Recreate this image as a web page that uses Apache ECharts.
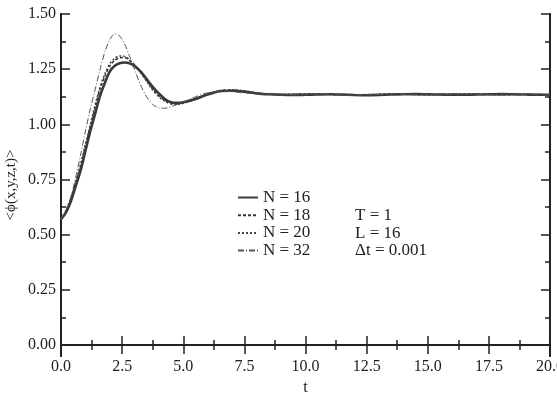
<!DOCTYPE html>
<html>
<head>
<meta charset="utf-8">
<script src="https://cdn.jsdelivr.net/npm/echarts@6/dist/echarts.min.js"></script>
<style>
  html, body { margin: 0; padding: 0; background: #fff; }
  #chart { width: 557px; height: 396px; }
</style>
</head>
<body>
<div id="chart"></div>
<script>
// time samples (t)
const times = [
  0, 0.2, 0.4, 0.6, 0.8, 1.0, 1.2, 1.4, 1.6, 1.8, 2.0, 2.2, 2.4, 2.6, 2.8, 3.0,
  3.25, 3.5, 3.75, 4.0, 4.25, 4.5, 4.75, 5.0,
  5.5, 6.0, 6.5, 7.0, 7.5, 8.0,
  8.5, 9.0, 9.5, 10, 10.5, 11, 11.5, 12, 12.5, 13, 13.5, 14, 14.5, 15, 15.5, 16,
  16.5, 17, 17.5, 18, 18.5, 19, 19.5, 20
];

const n16 = [
  0.57, 0.60, 0.65, 0.72, 0.79, 0.88, 0.97, 1.05, 1.13, 1.19, 1.24, 1.265, 1.277, 1.28, 1.277, 1.265,
  1.24, 1.205, 1.17, 1.14, 1.115, 1.10, 1.097, 1.10,
  1.115, 1.135, 1.15, 1.152, 1.148, 1.14,
  1.136, 1.134, 1.133, 1.134, 1.135, 1.136, 1.135, 1.133, 1.132, 1.133, 1.135, 1.136, 1.137, 1.136, 1.135, 1.134,
  1.134, 1.135, 1.136, 1.137, 1.136, 1.135, 1.134, 1.134
];
const n18 = [
  0.57, 0.60, 0.66, 0.73, 0.81, 0.90, 0.99, 1.08, 1.16, 1.22, 1.265, 1.29, 1.302, 1.303, 1.29, 1.27,
  1.24, 1.20, 1.16, 1.13, 1.108, 1.095, 1.093, 1.097,
  1.115, 1.138, 1.152, 1.155, 1.15, 1.142,
  1.137, 1.135, 1.136, 1.138, 1.137, 1.135, 1.133, 1.132, 1.134, 1.136, 1.138, 1.137, 1.135, 1.134, 1.135, 1.137,
  1.138, 1.137, 1.135, 1.134, 1.135, 1.136, 1.135, 1.134
];
const n20 = [
  0.57, 0.61, 0.665, 0.74, 0.82, 0.91, 1.00, 1.09, 1.17, 1.23, 1.275, 1.30, 1.31, 1.308, 1.292, 1.27,
  1.235, 1.195, 1.155, 1.125, 1.104, 1.092, 1.09, 1.095,
  1.113, 1.137, 1.153, 1.157, 1.152, 1.143,
  1.138, 1.136, 1.137, 1.139, 1.138, 1.136, 1.134, 1.133, 1.135, 1.137, 1.139, 1.138, 1.136, 1.135, 1.136, 1.138,
  1.139, 1.138, 1.136, 1.135, 1.136, 1.137, 1.136, 1.135
];
const n32 = [
  0.57, 0.61, 0.67, 0.76, 0.86, 0.97, 1.07, 1.16, 1.25, 1.33, 1.385, 1.41, 1.40, 1.365, 1.31, 1.25,
  1.18, 1.125, 1.09, 1.075, 1.073, 1.08, 1.09, 1.10,
  1.125, 1.143, 1.15, 1.148, 1.142, 1.138,
  1.135, 1.133, 1.134, 1.136, 1.137, 1.135, 1.132, 1.131, 1.133, 1.135, 1.137, 1.136, 1.134, 1.133, 1.134, 1.136,
  1.137, 1.136, 1.134, 1.133, 1.134, 1.135, 1.134, 1.133
];

const seriesNames = ['N = 16', 'N = 18', 'N = 20', 'N = 32'];
const yMajor = [0, 0.25, 0.5, 0.75, 1.0, 1.25, 1.5];
const yMinor = [0.125, 0.375, 0.625, 0.875, 1.125, 1.375];
const paramText = ['T = 1', 'L = 16', '\u0394t = 0.001'];

const FONT = "'Liberation Serif', 'DejaVu Serif', serif";
const AX = '#222';

function pairs(vals) {
  return times.map((t, i) => [t, vals[i]]);
}

const chart = echarts.init(document.getElementById('chart'), null, {renderer: 'canvas'});

const yBase = {
  type: 'value', min: -0.05, max: 1.5,
  splitLine: {show: false},
  axisLine: {show: true, lineStyle: {color: AX, width: 2}},
};

const option = {
  animation: false,
  backgroundColor: '#fff',
  grid: {left: 61, right: 7, top: 14, bottom: 40, outerBoundsMode: 'none', containLabel: false},
  xAxis: [
    {
      type: 'value', min: 0, max: 20, interval: 2.5,
      name: 't', nameLocation: 'middle', nameGap: 16,
      nameTextStyle: {fontFamily: FONT, fontSize: 16, color: AX},
      axisLine: {lineStyle: {color: AX, width: 2}},
      axisTick: {inside: true, length: 9, lineStyle: {color: AX, width: 1.5}},
      minorTick: {show: true, splitNumber: 2, length: 5, lineStyle: {color: AX, width: 1.5}},
      axisLabel: {fontFamily: FONT, fontSize: 16, color: AX, margin: 3,
        formatter: v => v.toFixed(1)},
      splitLine: {show: false}, minorSplitLine: {show: false},
    },
    {
      type: 'value', min: 0, max: 20, interval: 2.5, position: 'top',
      axisLine: {lineStyle: {color: AX, width: 2}},
      axisTick: {inside: true, length: 9, lineStyle: {color: AX, width: 1.5}},
      minorTick: {show: true, splitNumber: 2, length: 5, lineStyle: {color: AX, width: 1.5}},
      axisLabel: {show: false},
      splitLine: {show: false}, minorSplitLine: {show: false},
    }
  ],
  yAxis: [
    Object.assign({}, yBase, {
      position: 'left',
      name: '<\u03d5(x,y,z,t)>', nameLocation: 'middle', nameGap: 42, nameMoveOverlap: false,
      nameTextStyle: {fontFamily: FONT, fontSize: 15, color: AX},
      axisTick: {inside: true, length: 9, customValues: yMajor, lineStyle: {color: AX, width: 1.5}},
      axisLabel: {customValues: yMajor, fontFamily: FONT, fontSize: 16, color: AX, margin: 5,
        formatter: v => v.toFixed(2)},
    }),
    Object.assign({}, yBase, {
      position: 'left',
      axisTick: {inside: true, length: 5, customValues: yMinor, lineStyle: {color: AX, width: 1.5}},
      axisLabel: {show: false},
    }),
    Object.assign({}, yBase, {
      position: 'right',
      axisTick: {inside: true, length: 9, customValues: yMajor, lineStyle: {color: AX, width: 1.5}},
      axisLabel: {show: false},
    }),
    Object.assign({}, yBase, {
      position: 'right',
      axisTick: {inside: true, length: 5, customValues: yMinor, lineStyle: {color: AX, width: 1.5}},
      axisLabel: {show: false},
    })
  ],
  legend: {
    orient: 'vertical', left: 237, top: 189, padding: 0,
    itemWidth: 20, itemHeight: 14, itemGap: 0.7,
    itemStyle: {opacity: 0},
    textStyle: {fontFamily: FONT, fontSize: 17, color: AX, lineHeight: 14},
    data: seriesNames,
  },
  graphic: paramText.map((s, i) => ({
    type: 'text', left: 355, top: 207 + i * 17.7,
    style: {text: s, font: '17px ' + FONT, fill: AX},
  })),
  series: [
    {name: seriesNames[0], type: 'line', data: pairs(n16), symbol: 'none', smooth: 0.3,
      itemStyle: {color: '#3a3a3a'},
      lineStyle: {color: '#3a3a3a', width: 2.6, type: 'solid'}},
    {name: seriesNames[1], type: 'line', data: pairs(n18), symbol: 'none', smooth: 0.3,
      itemStyle: {color: '#333'},
      lineStyle: {color: '#333', width: 1.5, type: [3, 2]}},
    {name: seriesNames[2], type: 'line', data: pairs(n20), symbol: 'none', smooth: 0.3,
      itemStyle: {color: '#444'},
      lineStyle: {color: '#444', width: 1.5, type: [2, 2]}},
    {name: seriesNames[3], type: 'line', data: pairs(n32), symbol: 'none', smooth: 0.3,
      itemStyle: {color: '#555'},
      lineStyle: {color: '#555', width: 1, type: [6, 2, 1, 2]}},
  ],
};

chart.setOption(option);
</script>
</body>
</html>
